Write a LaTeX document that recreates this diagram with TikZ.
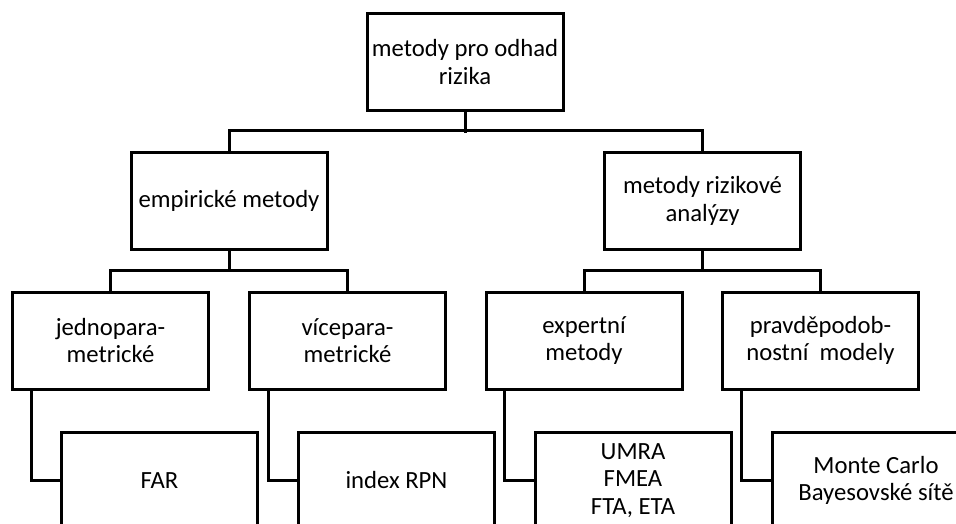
\documentclass[tikz,border=0pt]{standalone}
\usepackage{fontspec}
\setmainfont{Carlito}
\usetikzlibrary{positioning}

\begin{document}
\begin{tikzpicture}[x=1pt, y=-1pt,
		    box/.style={draw, line width=3pt, minimum width=196pt, minimum height=97pt,
		        align=center, inner sep=0pt, font=\fontsize{24.7}{27.5}\selectfont},
		    link/.style={line width=3pt}
		]
		\useasboundingbox (0,0) rectangle (956,524);
		\clip (0,0) rectangle (956,524);
		\node[box] (Root) at (465, 62) {metody pro odhad\\rizika};
		\node[box] (Empiric) at (229, 201) {empirické metody};
		\node[box] (Analysis) at (702.5, 201) {metody rizikové\\analýzy};
		\node[box] (Single) at (110.5, 340.5) {jednopara-\\metrické};
		\node[box] (Multi) at (347.5, 340.5) {vícepara-\\metrické};
		\node[box] (Expert) at (584, 340.5) {expertní\\metody};
		\node[box] (Prob) at (820.5, 340.5) {pravděpodob-\\nostní~ modely};
		\node[box] (FAR) at (159.5, 480.5) {FAR};
		\node[box] (RPN) at (396.5, 480.5) {index RPN};
		\node[box] (UMRA) at (633, 480.5) {UMRA\\FMEA\\FTA, ETA};
		\node[box, minimum width=208pt] (Monte Carlo) at (876, 480.5) {Monte Carlo\\Bayesovské sítě};
		\draw[link] (Root.south) -- ++(0, 21);
		\draw[link] (Empiric.north) -- ++(0, -20) -| (Analysis.north);
		\draw[link] (Empiric.south) -- ++(0, 21);
		\draw[link] (Single.north) -- ++(0, -20) -| (Multi.north);
		\draw[link] (Analysis.south) -- ++(0, 21);
		\draw[link] (Expert.north) -- ++(0, -20) -| (Prob.north);
		\draw[link] ([xshift=20pt]Single.south west) |- (FAR.west);
		\draw[link] ([xshift=20pt]Multi.south west) |- (RPN.west);
		\draw[link] ([xshift=20pt]Expert.south west) |- (UMRA.west);
		\draw[link] ([xshift=20pt]Prob.south west) |- (Monte Carlo.west);
	\end{tikzpicture}
\end{document}
